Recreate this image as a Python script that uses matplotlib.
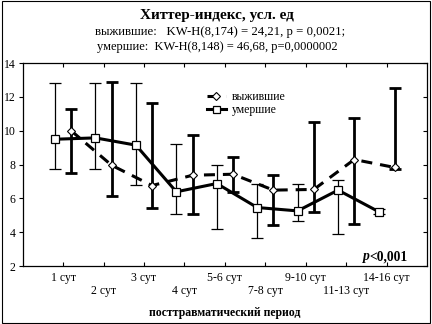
import numpy as np
import matplotlib.pyplot as plt
from matplotlib.patches import Rectangle

plt.rcParams['font.family'] = ['Liberation Serif', 'DejaVu Serif']

categories = ['1 сут', '2 сут', '3 сут', '4 сут', '5-6 сут', '7-8 сут',
              '9-10 сут', '11-13 сут', '14-16 сут']
# выжившие
surv_mean = [10.0, 7.96, 6.76, 7.37, 7.43, 6.49, 6.53, 8.30, 7.83]
surv_hi = [11.28, 12.86, 11.65, 9.78, 8.46, 7.37, 10.53, 10.73, 12.56]
surv_lo = [7.49, 6.17, 5.46, 5.07, 6.39, 4.41, 5.17, 4.51, 7.75]
# умершие
dec_mean = [9.5, 9.58, 9.15, 6.39, 6.88, 5.46, 5.26, 6.49, 5.22]
dec_hi = [12.8, 12.8, 12.8, 9.19, 8.0, 6.88, 6.88, 7.08, 5.35]
dec_lo = [7.71, 7.75, 6.78, 5.08, 4.18, 3.66, 4.67, 3.92, 5.1]

x = np.arange(1, len(categories) + 1)
xs = x + 0.2
xd = x - 0.2
sm, dm = np.array(surv_mean), np.array(dec_mean)
s_err = [sm - np.array(surv_lo), np.array(surv_hi) - sm]
d_err = [dm - np.array(dec_lo), np.array(dec_hi) - dm]

fig = plt.figure(figsize=(4.32, 3.24), dpi=100)
ax = fig.add_axes([0.0525, 0.179, 0.936, 0.626])

ax.errorbar(xd, dm, yerr=d_err, fmt='none', ecolor='black', elinewidth=0.9,
            capsize=4, capthick=0.9, zorder=2)
ax.errorbar(xs, sm, yerr=s_err, fmt='none', ecolor='black', elinewidth=2.0,
            capsize=4, capthick=2.0, zorder=2)
ax.plot(xs, sm, color='black', lw=2.2, dashes=(3.6, 2.6),
        marker='D', ms=4.5, mfc='white', mec='black', mew=0.8,
        label='выжившие', zorder=3)
ax.plot(xd, dm, color='black', lw=2.2, linestyle='-',
        marker='s', ms=6.3, mfc='white', mec='black', mew=0.9,
        label='умершие', zorder=4)

ax.set_xlim(0, 10)
ax.set_ylim(2, 14)
ax.set_yticks(np.arange(2, 15, 2))
ax.set_xticks(x)
ax.set_xticklabels(categories, fontsize=8.5)
ax.tick_params(axis='x', direction='in', top=True, length=3, pad=4)
# чётные подписи уходят на вторую строку
for i, tick in enumerate(ax.xaxis.get_major_ticks()):
    if i % 2:
        tick.set_pad(14)
ax.tick_params(axis='y', direction='out', length=3, pad=2, labelsize=8.5)
ax.tick_params(axis='y', which='both', right=True)
for t in ax.yaxis.get_ticklines()[1::2]:
    t.set_marker(0)
for sp in ax.spines.values():
    sp.set_linewidth(0.9)

leg = ax.legend(loc='upper left', bbox_to_anchor=(0.435, 0.905), frameon=False,
                fontsize=8.5, handlelength=1.6, handletextpad=0.5,
                labelspacing=0.1, borderpad=0.2, markerscale=0.8)

fig.text(0.502, 0.953, 'Хиттер-индекс, усл. ед', ha='center', va='center',
         fontsize=11, fontweight='bold')
fig.text(0.510, 0.900, 'выжившие:   KW-H(8,174) = 24,21, p = 0,0021;',
         ha='center', va='center', fontsize=9.2)
fig.text(0.502, 0.854, 'умершие:  KW-H(8,148) = 46,68, p=0,0000002',
         ha='center', va='center', fontsize=9)
fig.text(0.52, 0.034, 'посттравматический период', ha='center', va='center',
         fontsize=8.5, fontweight='bold')

pt = ax.text(9.52, 2.55, '<0,001', ha='right', va='center', fontsize=9.8,
             fontweight='bold')
ax.annotate('p', xy=(0, 0.5), xycoords=pt, ha='right', va='center',
            fontsize=9.8, fontweight='bold', fontstyle='italic')

fig.patches.append(Rectangle((2 / 432, 1 / 324), 428 / 432, 322 / 324,
                             transform=fig.transFigure, fill=False,
                             edgecolor='black', lw=0.8))

fig.savefig('out.png', dpi=100)
